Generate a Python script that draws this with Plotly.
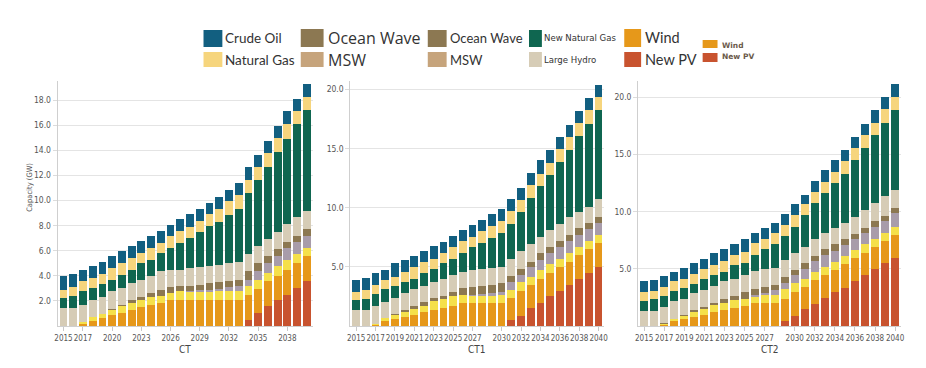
import plotly.graph_objects as go

# the page puts the figure 8px in from the window corner
OFF = 8
FW, FH = 910, 352

years = list(range(2015, 2041))

series_names = ["New PV", "Wind", "Solar", "Other", "Ocean Wave",
                "Large Hydro", "New Natural Gas", "Natural Gas", "Crude Oil"]
series_colors = ["#C8532F", "#E6981A", "#F5E04A", "#A89CAA", "#8C7852",
                 "#D6CCB6", "#0F6650", "#F6D57D", "#125F80"]

# ---- CT ----
ct_new_pv = [0, 0, 0, 0, 0, 0, 0, 0, 0, 0, 0, 0, 0, 0, 0, 0, 0, 0, 0,
             0.5, 1.0, 1.6, 2.1, 2.5, 3.0, 3.6]
ct_wind = [0, 0, 0.13, 0.4, 0.65, 0.9, 1.0, 1.3, 1.5, 1.7, 1.8, 2.05, 2.05,
           2.05, 2.05, 2.05, 2.05, 2.05, 2.05, 2.0, 1.95, 2.0, 1.9, 2.0, 2.05, 1.95]
ct_solar = [0, 0, 0.2, 0.3, 0.3, 0.4, 0.6, 0.5, 0.6, 0.65, 0.6, 0.6, 0.7,
            0.7, 0.7, 0.7, 0.7, 0.7, 0.7, 0.65, 0.75, 0.6, 0.75, 0.75, 0.7, 0.65]
ct_other = [0, 0, 0, 0, 0, 0, 0, 0, 0, 0, 0, 0, 0, 0.05, 0.1, 0.15, 0.2,
            0.35, 0.4, 0.55, 0.65, 0.85, 0.8, 0.95, 0.95, 1.0]
ct_ocean = [0, 0, 0, 0, 0, 0.05, 0.1, 0.25, 0.25, 0.25, 0.45, 0.45, 0.45,
            0.4, 0.45, 0.5, 0.55, 0.5, 0.5, 0.65, 0.65, 0.55, 0.55, 0.5, 0.5, 0.55]
ct_hydro = [1.4, 1.4, 1.35, 1.35, 1.4, 1.4, 1.35, 1.4, 1.35, 1.4, 1.5, 1.4,
            1.3, 1.4, 1.4, 1.4, 1.4, 1.4, 1.45, 1.4, 1.4, 1.3, 1.4, 1.45, 1.45, 1.45]
ct_new_gas = [0.8, 1.0, 1.1, 0.95, 1.0, 0.9, 1.05, 1.05, 1.3, 1.25, 1.45,
              1.7, 2.15, 2.45, 2.8, 3.15, 3.4, 3.85, 4.2, 4.85, 5.2, 5.75,
              6.4, 6.75, 7.45, 8.0]
ct_gas = [0.7, 0.7, 0.8, 0.8, 0.8, 0.95, 0.95, 0.9, 0.8, 0.95, 0.8, 0.95,
          0.9, 0.85, 0.85, 0.95, 1.0, 1.1, 1.15, 1.05, 1.05, 1.15, 1.1, 1.2, 1.0, 1.05]
ct_oil = [1.05, 1.05, 0.85, 1.0, 0.95, 1.0, 0.9, 1.0, 1.0, 1.0, 1.0, 0.9,
          1.0, 1.05, 0.95, 0.9, 0.95, 0.9, 0.95, 1.0, 0.95, 0.95, 0.95, 1.0, 1.0, 1.05]

# ---- CT1 ----
ct1_new_pv = [0, 0, 0, 0, 0, 0, 0, 0, 0, 0, 0, 0, 0, 0, 0, 0,
              0.5, 0.85, 1.5, 1.95, 2.5, 3.0, 3.45, 4.0, 4.5, 5.0]
ct1_wind = [0, 0, 0.1, 0.45, 0.6, 0.8, 0.95, 1.15, 1.35, 1.55, 1.7, 1.95,
            1.95, 1.95, 1.95, 1.95, 1.85, 2.1, 1.95, 2.05, 2.0, 2.0, 2.0, 2.0, 2.0, 2.0]
ct1_solar = [0, 0, 0.1, 0.2, 0.35, 0.35, 0.55, 0.55, 0.8, 0.7, 0.8, 0.65,
             0.65, 0.65, 0.65, 0.65, 0.7, 0.8, 0.7, 0.75, 0.75, 0.7, 0.75, 0.7, 0.7, 0.7]
ct1_other = [0, 0, 0, 0, 0, 0, 0, 0, 0, 0, 0, 0, 0.05, 0.1, 0.15, 0.3,
             0.7, 0.6, 0.8, 0.85, 0.9, 1.0, 1.0, 1.0, 1.0, 1.0]
ct1_ocean = [0, 0, 0, 0, 0.05, 0.2, 0.15, 0.35, 0.25, 0.3, 0.4, 0.6, 0.65,
             0.7, 0.7, 0.7, 0.5, 0.5, 0.5, 0.55, 0.55, 0.5, 0.5, 0.55, 0.5, 0.55]
ct1_hydro = [1.35, 1.35, 1.45, 1.4, 1.35, 1.4, 1.45, 1.35, 1.35, 1.45, 1.4,
             1.4, 1.45, 1.45, 1.45, 1.4, 1.45, 1.45, 1.5, 1.4, 1.45, 1.45,
             1.5, 1.4, 1.4, 1.45]
ct1_new_gas = [0.85, 0.95, 1.05, 1.05, 1.05, 1.0, 0.9, 1.1, 1.1, 1.35, 1.4,
               1.6, 1.95, 2.15, 2.55, 2.85, 2.95, 3.3, 3.9, 4.3, 4.6, 5.25,
               5.7, 6.4, 7.0, 7.6]
ct1_gas = [0.7, 0.75, 0.75, 0.8, 0.75, 0.85, 0.95, 0.95, 0.85, 0.85, 1.0,
           0.95, 0.85, 1.0, 1.0, 1.05, 1.1, 1.05, 1.05, 1.0, 1.0, 1.05, 1.1,
           1.15, 1.2, 1.1]
ct1_oil = [1.0, 1.05, 1.05, 0.85, 1.2, 1.0, 0.95, 0.9, 1.05, 0.9, 0.9, 0.95,
           1.0, 1.0, 1.0, 0.95, 1.0, 1.05, 1.05, 1.15, 1.15, 1.0, 1.0, 1.0, 0.95, 0.95]

# ---- CT2 ----
ct2_new_pv = [0, 0, 0, 0, 0, 0, 0, 0, 0, 0, 0, 0, 0, 0, 0.45, 0.85, 1.45,
              1.95, 2.45, 2.95, 3.35, 3.95, 4.45, 4.95, 5.5, 5.95]
ct2_wind = [0, 0, 0.1, 0.4, 0.6, 0.8, 0.95, 1.25, 1.4, 1.6, 1.75, 2.05,
            2.05, 2.05, 1.95, 2.15, 2.0, 2.05, 2.0, 1.95, 2.05, 2.0, 1.95, 2.0, 1.95, 2.0]
ct2_solar = [0, 0, 0.1, 0.25, 0.3, 0.45, 0.5, 0.6, 0.65, 0.7, 0.65, 0.55,
             0.65, 0.65, 0.8, 0.8, 0.7, 0.75, 0.75, 0.7, 0.75, 0.7, 0.75, 0.7, 0.65, 0.75]
ct2_other = [0, 0, 0, 0, 0, 0, 0, 0, 0, 0, 0, 0.1, 0.2, 0.45, 0.55, 0.65,
             0.8, 0.95, 1.0, 1.0, 0.95, 0.95, 0.95, 1.05, 1.05, 1.15]
ct2_ocean = [0, 0, 0.05, 0, 0.1, 0.15, 0.25, 0.2, 0.35, 0.3, 0.6, 0.5, 0.5,
             0.45, 0.5, 0.45, 0.55, 0.45, 0.5, 0.55, 0.5, 0.45, 0.45, 0.45, 0.5, 0.45]
ct2_hydro = [1.35, 1.35, 1.45, 1.5, 1.4, 1.45, 1.45, 1.45, 1.5, 1.5, 1.5,
             1.65, 1.55, 1.45, 1.5, 1.45, 1.45, 1.5, 1.45, 1.45, 1.45, 1.5,
             1.6, 1.6, 1.7, 1.6]
ct2_new_gas = [0.85, 1.0, 0.9, 0.95, 0.9, 0.85, 0.95, 0.95, 0.85, 1.25, 1.05,
               1.35, 1.75, 2.1, 2.1, 2.35, 2.75, 3.1, 3.45, 3.9, 4.25, 4.95,
               5.4, 5.95, 6.45, 7.0]
ct2_gas = [0.8, 0.75, 0.8, 0.8, 0.8, 0.85, 0.85, 0.9, 0.9, 0.85, 0.95, 1.05,
           0.95, 0.95, 1.0, 1.0, 0.95, 1.0, 1.0, 1.0, 1.1, 1.05, 1.15, 1.1, 1.15, 1.15]
ct2_oil = [0.95, 0.9, 0.95, 0.85, 0.95, 1.0, 0.95, 1.0, 1.05, 0.95, 1.1,
           0.85, 0.9, 0.9, 0.95, 0.95, 0.85, 0.95, 1.05, 1.0, 1.0, 1.0, 0.95,
           1.1, 1.05, 1.1]

panels = [
    ("CT", [ct_new_pv, ct_wind, ct_solar, ct_other, ct_ocean, ct_hydro,
            ct_new_gas, ct_gas, ct_oil]),
    ("CT1", [ct1_new_pv, ct1_wind, ct1_solar, ct1_other, ct1_ocean, ct1_hydro,
             ct1_new_gas, ct1_gas, ct1_oil]),
    ("CT2", [ct2_new_pv, ct2_wind, ct2_solar, ct2_other, ct2_ocean, ct2_hydro,
             ct2_new_gas, ct2_gas, ct2_oil]),
]

x_tickvals = [
    [2015, 2017, 2020, 2023, 2026, 2029, 2032, 2035, 2038],
    [2015, 2017, 2019, 2021, 2023, 2025, 2027, 2030, 2032, 2034, 2036, 2038, 2040],
    [2015, 2017, 2019, 2021, 2023, 2025, 2027, 2030, 2032, 2034, 2036, 2038, 2040],
]
y_tickvals = [
    [2, 4, 6, 8, 10, 12, 14, 16, 18],
    [5, 10, 15, 20],
    [5, 10, 15, 20],
]
y_max = [19.52, 20.71, 21.43]


def px_x(px):
    return (px - OFF) / FW


def px_y(py):
    return 1 - (py - OFF) / FH


# pixel layout of the three panels (window coordinates)
x_px = [(55, 312), (350, 606), (640, 905)]
y_bottom, y_top = 326, 81

narrow = "Liberation Sans Narrow, DejaVu Sans Condensed, Liberation Sans, sans-serif"
tick_font = dict(family=narrow, size=8, color="#555555")

fig = go.Figure()

for i, (label, stacks) in enumerate(panels):
    ax = "" if i == 0 else str(i + 1)
    for name, color, vals in zip(series_names, series_colors, stacks):
        fig.add_trace(go.Bar(
            x=years, y=vals, name=name, marker_color=color,
            marker_line_width=0, showlegend=False,
            xaxis="x" + ax, yaxis="y" + ax,
        ))
    x0, x1 = x_px[i]
    fig.layout["xaxis" + ax] = dict(
        domain=[px_x(x0), px_x(x1)], anchor="y" + ax,
        range=[2014.4, 2040.6], tickvals=x_tickvals[i],
        ticktext=[str(v) for v in x_tickvals[i]], tickangle=0,
        ticks="outside", ticklen=4, tickcolor="#c8c8c8",
        showline=True, linecolor="#cfcfcf", showgrid=False,
        tickfont=tick_font, fixedrange=True,
    )
    fig.layout["yaxis" + ax] = dict(
        domain=[px_y(y_bottom), px_y(y_top)], anchor="x" + ax,
        range=[0, y_max[i]], tickvals=y_tickvals[i],
        ticktext=["%.1f" % v for v in y_tickvals[i]],
        ticks="outside", ticklen=4, tickcolor="#dcdcdc",
        showline=True, linecolor="#cfcfcf", showgrid=True,
        gridcolor="#e4e4e4", zeroline=False,
        tickfont=dict(family=narrow, size=8.5, color="#555555"), fixedrange=True,
    )
    fig.add_annotation(
        x=px_x((x0 + x1) / 2), y=px_y(349), xref="paper", yref="paper",
        text=label, showarrow=False, xanchor="center", yanchor="middle",
        font=dict(family=narrow, size=10, color="#444444"),
    )

fig.add_annotation(
    x=px_x(26), y=px_y(187), xref="paper", yref="paper",
    text="Capacity (GW)", textangle=-90, showarrow=False,
    xanchor="center", yanchor="middle",
    font=dict(family=narrow, size=7.5, color="#555555"),
)

# hand-made legend, as in the source picture
legend_entries = [
    # label, colour, swatch x0, x1, y0, y1, text x, text y, size, family, bold
    ("Crude Oil", "#125F80", 202, 221, 30, 47, 222, 38, 13.5, "Lato", False),
    ("Natural Gas", "#F6D57D", 202, 221, 52, 67, 222, 60, 13.5, "Lato", False),
    ("Ocean Wave", "#8C7852", 300, 323, 29, 47, 325, 38, 16, "Open Sans", False),
    ("MSW", "#C6A47C", 300, 323, 52, 67, 325, 60, 16, "Open Sans", False),
    ("Ocean Wave", "#8C7852", 428, 447, 30, 47, 448, 38, 13, "Lato", False),
    ("MSW", "#C6A47C", 428, 447, 52, 67, 448, 60, 13, "Lato", False),
    ("New Natural Gas", "#0F6650", 530, 543, 30, 47, 543, 38, 9.5, narrow, False),
    ("Large Hydro", "#D6CCB6", 530, 543, 52, 67, 543, 60, 9.5, narrow, False),
    ("Wind", "#E6981A", 626, 643, 29, 47, 645, 38, 14.5, "Lato", False),
    ("New PV", "#C8532F", 626, 643, 52, 67, 645, 60, 14.5, "Lato", False),
    ("Wind", "#E6981A", 705, 720, 40, 48, 722, 45, 7.5, "DejaVu Sans", True),
    ("New PV", "#C8532F", 705, 720, 53, 62, 722, 57, 7.5, "DejaVu Sans", True),
]
for (txt, col, sx0, sx1, sy0, sy1, tx, ty, size, fam, bold) in legend_entries:
    fig.add_shape(
        type="rect", xref="paper", yref="paper",
        x0=px_x(sx0), x1=px_x(sx1), y0=px_y(sy1), y1=px_y(sy0),
        fillcolor=col, line_width=0,
    )
    fig.add_annotation(
        x=px_x(tx), y=px_y(ty), xref="paper", yref="paper",
        text="<b>%s</b>" % txt if bold else txt, showarrow=False,
        xanchor="left", yanchor="middle",
        font=dict(family=fam, size=size, color="#6b5a4a" if bold else "#333333"),
    )

fig.update_layout(
    width=FW, height=FH,
    barmode="stack", bargap=0.2,
    plot_bgcolor="white", paper_bgcolor="white",
    margin=dict(l=0, r=0, t=0, b=0),
    showlegend=False,
)

fig.write_html("out.html")
